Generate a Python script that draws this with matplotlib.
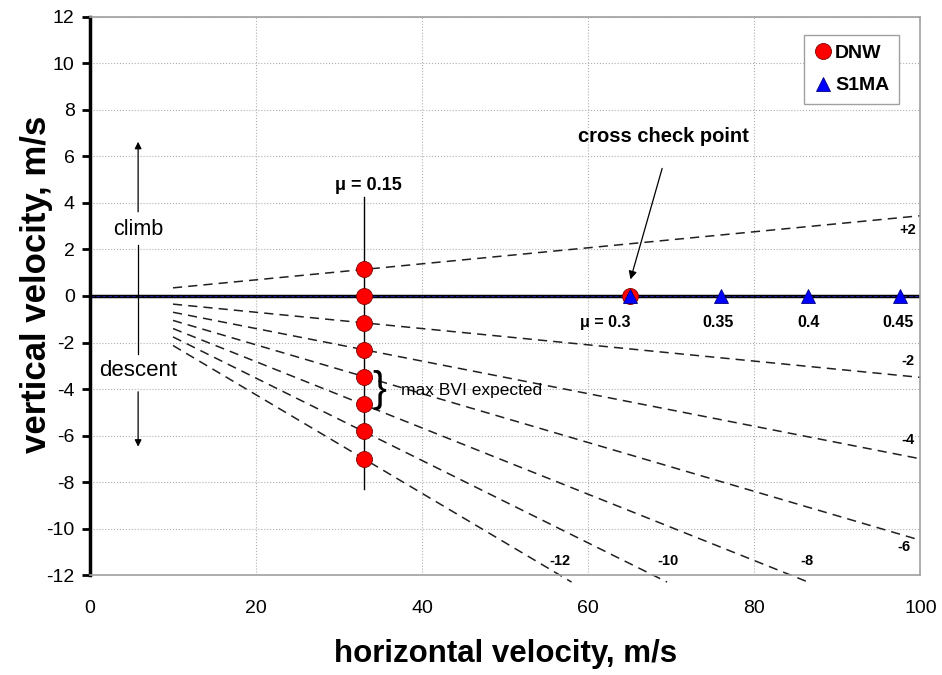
import matplotlib
matplotlib.use("Agg")
import matplotlib.pyplot as plt

plt.rcParams['font.family'] = ['Liberation Sans', 'DejaVu Sans']
plt.rcParams['axes.unicode_minus'] = False

# constant flight-path-angle lines (deg), read as end points off the chart
angle_labels = ['+2', '-2', '-4', '-6', '-8', '-10', '-12']
line_x0 = [10, 10, 10, 10, 10, 10, 10]
line_y0 = [0.35, -0.35, -0.70, -1.05, -1.40, -1.76, -2.13]
line_x1 = [100, 100, 100, 100, 86.5, 69.5, 58.0]
line_y1 = [3.45, -3.50, -7.00, -10.50, -12.3, -12.3, -12.3]
label_x = [98.5, 98.5, 98.5, 98.0, 86.3, 69.6, 56.6]
label_y = [2.85, -2.8, -6.2, -10.8, -11.4, -11.4, -11.4]

# test points
dnw_x = [33, 33, 33, 33, 33, 33, 33, 33, 65]
dnw_y = [1.16, 0, -1.16, -2.32, -3.48, -4.64, -5.8, -7.0, 0]
s1ma_x = [65, 76, 86.5, 97.5]
s1ma_y = [0, 0, 0, 0]
mu_labels = ['μ = 0.3', '0.35', '0.4', '0.45']
mu_x = [62, 75.7, 86.5, 97.3]

fig = plt.figure(figsize=(9.42, 6.75), dpi=100)
ax = fig.add_axes([0.0955, 0.148, 0.8815, 0.827])

ax.set_xlim(0, 100)
ax.set_ylim(-12, 12)
ax.set_xticks(range(0, 101, 20))
ax.set_yticks(range(-12, 13, 2))
ax.grid(True, color='#b0b0b0', linestyle=':', linewidth=0.8)
ax.set_axisbelow(True)

for s in ['top', 'right', 'bottom']:
    ax.spines[s].set_color('#a0a0a0')
    ax.spines[s].set_linewidth(1.2)
ax.spines['left'].set_linewidth(2.5)
ax.tick_params(axis='y', direction='out', length=6, width=2, labelsize=14, pad=5)
ax.tick_params(axis='x', length=0, labelsize=14, pad=18)

ax.set_xlabel('horizontal velocity, m/s', fontsize=22.5, fontweight='bold', labelpad=16)
ax.set_ylabel('vertical velocity, m/s', fontsize=25, fontweight='bold')
ax.yaxis.set_label_coords(-0.045, 0.52)

# zero line
ax.axhline(0, color='black', linewidth=2.5, zorder=2)
ax.plot([0, 100], [0, 0], color='#1a1a8c', linestyle='--', linewidth=0.8, zorder=2)

for i in range(len(angle_labels)):
    ax.plot([line_x0[i], line_x1[i]], [line_y0[i], line_y1[i]], color='#202020',
            linestyle=(0, (6, 4)), linewidth=1.1, clip_on=False, zorder=2)
    ax.text(label_x[i], label_y[i], angle_labels[i], fontsize=10.5, fontweight='bold',
            ha='center', va='center')

# mu = 0.15 line
ax.plot([33, 33], [4.25, -8.3], color='black', linewidth=1.0, zorder=2)
ax.text(33.5, 4.75, 'μ = 0.15', fontsize=13, fontweight='bold', ha='center', va='center')

ax.plot(dnw_x, dnw_y, linestyle='none', marker='o', markersize=11.5,
        markerfacecolor='#ff0000', markeredgecolor='#800000', markeredgewidth=0.6,
        label='DNW', zorder=4)
ax.plot(s1ma_x, s1ma_y, linestyle='none', marker='^', markersize=10,
        markerfacecolor='#0000ff', markeredgecolor='#000080', markeredgewidth=0.6,
        label='S1MA', zorder=5)

for lab, x in zip(mu_labels, mu_x):
    ax.text(x, -1.15, lab, fontsize=11.5, fontweight='bold', ha='center', va='center')

# cross check point
ax.text(69, 6.85, 'cross check point', fontsize=14.5, fontweight='bold', ha='center', va='center')
ax.annotate('', xy=(65, 0.6), xytext=(69, 5.6),
            arrowprops=dict(arrowstyle='-|>', color='black', lw=0.9, mutation_scale=12))

# climb / descent
ax.annotate('', xy=(5.8, 6.75), xytext=(5.8, 3.5),
            arrowprops=dict(arrowstyle='-|>', color='black', lw=0.9, mutation_scale=10))
ax.text(5.8, 2.85, 'climb', fontsize=15.5, ha='center', va='center')
ax.plot([5.8, 5.8], [2.2, -2.5], color='black', linewidth=0.9)
ax.text(5.8, -3.2, 'descent', fontsize=16, ha='center', va='center')
ax.annotate('', xy=(5.8, -6.6), xytext=(5.8, -4.0),
            arrowprops=dict(arrowstyle='-|>', color='black', lw=0.9, mutation_scale=10))

# max BVI expected
ax.text(34.9, -4.05, '}', fontsize=30, fontweight='light', ha='center', va='center')
ax.text(37.4, -4.05, 'max BVI expected', fontsize=12.5, ha='left', va='center')

leg = ax.legend(loc='upper right', bbox_to_anchor=(0.986, 0.985), fontsize=14,
                handletextpad=0.1, handlelength=1.0, borderpad=0.5, labelspacing=0.75,
                fancybox=False, edgecolor='#a0a0a0', framealpha=1)
for t in leg.get_texts():
    t.set_fontweight('bold')

fig.savefig('out.png', dpi=100)
